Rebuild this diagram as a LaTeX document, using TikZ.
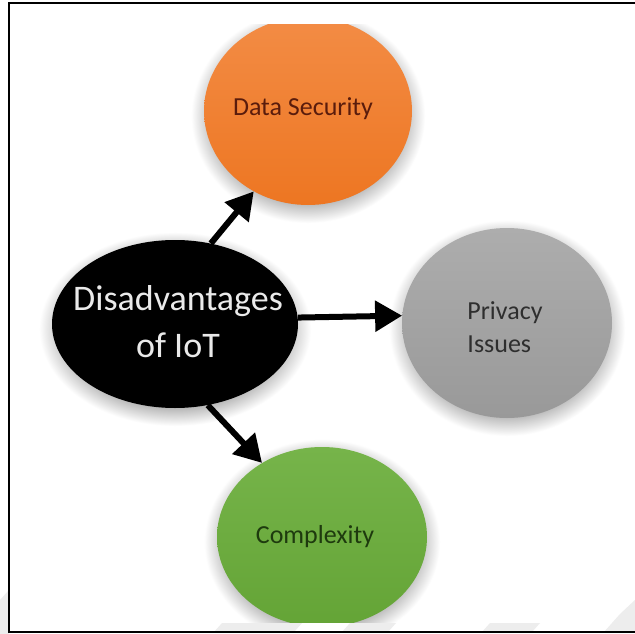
\documentclass[tikz,border=0pt]{standalone}
\usepackage{fontspec}
\setmainfont{Carlito}
\usetikzlibrary{arrows.meta,shapes.geometric}

\definecolor{orangeTop}{HTML}{F38C45}
\definecolor{orangeBot}{HTML}{ED7622}
\definecolor{greyTop}{HTML}{ADADAD}
\definecolor{greyBot}{HTML}{999999}
\definecolor{greenTop}{HTML}{76B44A}
\definecolor{greenBot}{HTML}{64A436}
\definecolor{dsText}{HTML}{5A1C0C}
\definecolor{cxText}{HTML}{1E3A0E}
\definecolor{pvText}{HTML}{2E2E2E}
\definecolor{hubText}{HTML}{EAEAEA}

% soft drop shadow: flat grey core that fades to white at the rim
\pgfdeclareradialshading{halo}{\pgfpointorigin}{%
  color(0bp)=(black!30); color(20bp)=(black!30);
  color(25bp)=(white); color(50bp)=(white)}

\newcommand{\softshadow}[4]{% x, y, x radius, y radius
  \shade[shading=halo] (#1,#2+5) ellipse [x radius=#3+13, y radius=#4+13];}

\begin{document}
\begin{tikzpicture}[x=1pt,y=-1pt,
  bubble/.style={ellipse, inner sep=0pt, draw=none},
  label/.style={inner sep=0pt, font=\fontsize{26}{33}\selectfont},
  link/.style={line width=6pt, draw=black,
    -{Triangle[length=27pt,width=30pt]}},
  stripe/.style={fill=black!7, draw=none},
]
\useasboundingbox (0,0) rectangle (635,634);
\fill[white] (0,0) rectangle (635,634);

% faint stripes along the bottom edge
\fill[stripe] (0,600) -- (9,590) -- (9,634) -- (0,634) -- cycle;
\fill[stripe] (222,623) -- (302,623) -- (294,632) -- (214,632) -- cycle;
\fill[stripe] (350,623) -- (396,623) -- (388,632) -- (342,632) -- cycle;
\fill[stripe] (490,623) -- (540,623) -- (532,632) -- (482,632) -- cycle;
\fill[stripe] (620,614) -- (635,600) -- (635,632) -- (604,632) -- cycle;

% hub
\softshadow{175}{324}{123}{84}
\node[bubble, fill=black, minimum width=246pt, minimum height=168pt]
  (hub) at (175,324) {};
\node[inner sep=0pt, align=center, text=hubText,
      font=\fontsize{36}{47}\selectfont] (hubtxt) at (178,322)
  {Disadvantages\\of IoT};

% Data Security (cut off by the top edge)
\begin{scope}
  \clip (0,25) rectangle (635,634);
  \softshadow{308}{111}{104}{94}
  \node[bubble, top color=orangeTop, bottom color=orangeBot,
        minimum width=208pt, minimum height=188pt] (ds) at (308,111) {};
\end{scope}
\node[label, text=dsText] (dstxt) at (303,109) {Data Security};

% Privacy Issues
\softshadow{507}{323}{105}{95}
\node[bubble, top color=greyTop, bottom color=greyBot,
      minimum width=210pt, minimum height=190pt] (pv) at (507,323) {};
\node[label, text=pvText, align=left] (pvtxt) at (505,327)
  {Privacy\\Issues};

% Complexity (cut off by the bottom edge)
\begin{scope}
  \clip (0,0) rectangle (635,622.5);
  \softshadow{322}{537}{105}{90}
  \node[bubble, top color=greenTop, bottom color=greenBot,
        minimum width=210pt, minimum height=180pt] (cx) at (322,537) {};
\end{scope}
\node[label, text=cxText] (cxtxt) at (315,537) {Complexity};

% connectors
\draw[link] (hub.66.9) -- (ds.236.1);
\draw[link] (hub.3.7) -- (pv.176.8);
\draw[link] (hub.292.6) -- (cx.129);

% frame
\draw[line width=2pt, black] (635,3) -- (9,3) -- (9,632) -- (635,632);
\end{tikzpicture}
\end{document}
